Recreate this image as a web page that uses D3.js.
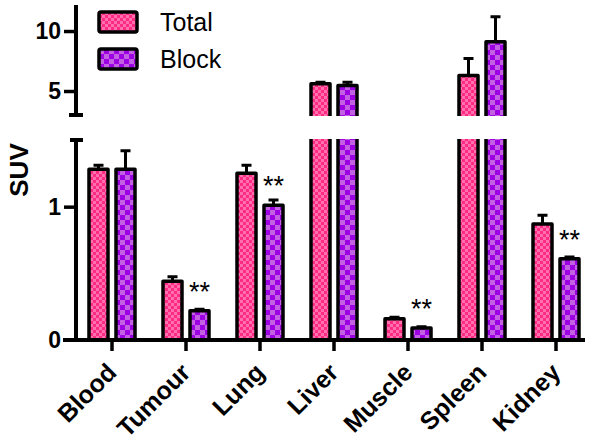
<!DOCTYPE html>
<html>
<head>
<meta charset="utf-8">
<script src="https://cdn.jsdelivr.net/npm/d3@7"></script>
<style>
  body { margin: 0; background: #fff; }
  svg { display: block; font-family: Arial, "Liberation Sans", sans-serif; }
</style>
</head>
<body>
<svg id="chart" width="600" height="443"></svg>
<script>
// data
const categories = ["Blood", "Tumour", "Lung", "Liver", "Muscle", "Spleen", "Kidney"];
const totalMean = [1.28, 0.44, 1.25, 5.6, 0.16, 6.3, 0.87];
const totalErr  = [0.03, 0.035, 0.06, 0.12, 0.01, 1.4, 0.065];
const blockMean = [1.28, 0.22, 1.01, 5.45, 0.09, 9.1, 0.61];
const blockErr  = [0.14, 0.01, 0.04, 0.28, 0.01, 2.1, 0.012];
const signif    = ["", "**", "**", "", "**", "", "**"];
const lowerTicks = [0, 1];
const upperTicks = [5, 10];
const seriesNames = ["Total", "Block"];

const svg = d3.select("#chart");

// checker fills
const defs = svg.append("defs");
function checker(id, size, dark, light) {
  const p = defs.append("pattern").attr("id", id)
    .attr("patternUnits", "userSpaceOnUse")
    .attr("width", size * 2).attr("height", size * 2);
  p.append("rect").attr("width", size * 2).attr("height", size * 2).attr("fill", dark);
  p.append("rect").attr("width", size).attr("height", size).attr("fill", light);
  p.append("rect").attr("x", size).attr("y", size).attr("width", size).attr("height", size).attr("fill", light);
}
checker("pTotal", 3, "#ff2a84", "#ff70ac");
checker("pBlock", 5, "#9e00e4", "#c262e2");
const fills = ["url(#pTotal)", "url(#pBlock)"];

// scales: broken y axis
const x = d3.scaleBand().domain(categories).range([75, 593]);
const yLow = d3.scaleLinear().domain([0, 1.5]).range([340, 140]);
const yUp = d3.scaleLinear().domain([3, 12.17]).range([115, 5]);
const y = v => v <= 1.5 ? yLow(v) : yUp(v);
const barOff = [-13.5, 13.5];
const barW = 19;

const series = [
  {mean: totalMean, err: totalErr},
  {mean: blockMean, err: blockErr}
];

const g = svg.append("g");

series.forEach((s, k) => {
  const cx = (d, i) => x(categories[i]) + x.bandwidth() / 2 + barOff[k];
  // error bars
  g.selectAll(".err" + k).data(s.mean).enter().append("path")
    .attr("d", (d, i) => {
      const c = cx(d, i), top = y(d + s.err[i]);
      return `M${c},${y(d)}V${top}M${c - 5},${top}H${c + 5}`;
    })
    .attr("stroke", "#000").attr("stroke-width", 3).attr("fill", "none");
  // bars
  g.selectAll(".bar" + k).data(s.mean).enter().append("rect")
    .attr("x", (d, i) => cx(d, i) - barW / 2)
    .attr("y", d => y(d))
    .attr("width", barW)
    .attr("height", d => yLow(0) - y(d))
    .attr("fill", fills[k])
    .attr("stroke", "#000").attr("stroke-width", 3.5)
    .attr("stroke-linejoin", "round");
});

// gap of the broken axis
svg.append("rect")
  .attr("x", 79).attr("y", yUp(3) + 1)
  .attr("width", 520).attr("height", yLow(1.5) - yUp(3) - 2)
  .attr("fill", "#fff");

// significance stars
svg.selectAll(".sig").data(blockMean).enter().append("text")
  .attr("x", (d, i) => x(categories[i]) + x.bandwidth() / 2 + barOff[1])
  .attr("y", d => y(d) - 10)
  .attr("text-anchor", "middle")
  .attr("font-size", 27)
  .text((d, i) => signif[i]);

// y axis, lower piece
const axL = svg.append("g").attr("transform", "translate(76,0)")
  .call(d3.axisLeft(yLow).tickValues(lowerTicks).tickFormat(d3.format("d"))
    .tickSize(12).tickSizeOuter(0).tickPadding(3));
// y axis, upper piece
const axU = svg.append("g").attr("transform", "translate(76,0)")
  .call(d3.axisLeft(yUp).tickValues(upperTicks).tickFormat(d3.format("d"))
    .tickSize(12).tickSizeOuter(0).tickPadding(3));
[axL, axU].forEach(a => {
  a.select(".domain").remove();
  a.selectAll("line").attr("stroke-width", 3.5);
  a.selectAll("text").attr("font-size", 23).attr("font-weight", "bold").attr("fill", "#000");
});
axL.selectAll(".tick").filter(d => d === 0).select("line").remove();
svg.append("path")
  .attr("d", `M76,${yLow(0)}V${yLow(1.5)}M70,${yLow(1.5)}H83`)
  .attr("stroke", "#000").attr("stroke-width", 4).attr("fill", "none");
svg.append("path")
  .attr("d", `M76,${yUp(3)}V${yUp(12.17)}M69,${yUp(3)}H83`)
  .attr("stroke", "#000").attr("stroke-width", 4).attr("fill", "none");

// x axis
const axX = svg.append("g").attr("transform", `translate(0,${yLow(0)})`)
  .call(d3.axisBottom(x).tickSize(11).tickSizeOuter(0).tickFormat(""));
axX.select(".domain").attr("d", "M63,0H585").attr("stroke-width", 4);
axX.selectAll("line").attr("stroke-width", 3.5);

svg.selectAll(".xlab").data(categories).enter().append("text")
  .attr("transform", d => `translate(${x(d) + x.bandwidth() / 2 + 6},${yLow(0) + 34}) rotate(-45)`)
  .attr("text-anchor", "end")
  .attr("font-size", 25).attr("font-weight", "bold")
  .text(d => d);

// y title
svg.append("text")
  .attr("transform", "translate(28,170) rotate(-90)")
  .attr("text-anchor", "middle")
  .attr("font-size", 26).attr("font-weight", "bold")
  .text("SUV");

// legend
const leg = svg.selectAll(".leg").data(seriesNames).enter().append("g")
  .attr("transform", (d, i) => `translate(99,${12 + i * 37})`);
leg.append("rect").attr("width", 38).attr("height", 20).attr("rx", 2)
  .attr("fill", (d, i) => fills[i]).attr("stroke", "#000").attr("stroke-width", 3.5);
leg.append("text").attr("x", 61).attr("y", 19).attr("font-size", 25).text(d => d);
</script>
</body>
</html>
